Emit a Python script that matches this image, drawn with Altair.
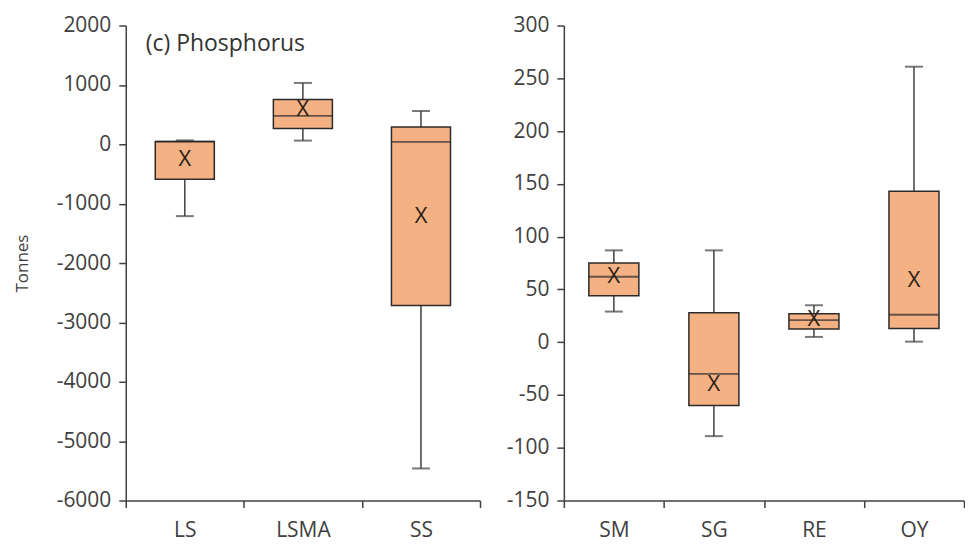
import altair as alt
import pandas as pd

# ---- data ----
left_cats = ["LS", "LSMA", "SS"]
left_min = [-1210, 62, -5460]
left_q1 = [-590, 267, -2715]
left_median = [45, 478, 40]
left_q3 = [45, 755, 290]
left_max = [65, 1033, 560]
left_mean = [-255, 590, -1210]
left_ticks = [-6000, -5000, -4000, -3000, -2000, -1000, 0, 1000, 2000]

right_cats = ["SM", "SG", "RE", "OY"]
right_min = [29, -89, 5, 0.5]
right_q1 = [44, -60, 12.5, 13]
right_median = [62, -30, 21, 26]
right_q3 = [75, 28, 27, 143]
right_max = [87, 87, 35, 261]
right_mean = [63, -40, 22, 59]
right_ticks = [-150, -100, -50, 0, 50, 100, 150, 200, 250, 300]

FONT = "Open Sans"
AXIS_COL = "#404040"
FILL = "#F4B183"
STROKE = "#2b2b2b"


def panel(cats, mn, q1, med, q3, mx, mean, ticks, width, height, ytitle, note):
    df = pd.DataFrame({"cat": cats, "min": mn, "q1": q1, "median": med,
                       "q3": q3, "max": mx, "mean": mean})
    band = width / len(cats)
    box_px = band * 0.5
    x = alt.X("cat:N", sort=cats,
              scale=alt.Scale(paddingInner=0, paddingOuter=0),
              axis=alt.Axis(title=None, labelAngle=0, tickBand="extent",
                            tickSize=7, labelPadding=12, labelFontSize=21))
    yscale = alt.Scale(domain=[ticks[0], ticks[-1]], nice=False, zero=False)
    yaxis = alt.Axis(values=ticks, labelExpr="'' + datum.value", tickSize=7,
                     labelPadding=8, labelFontSize=21, grid=False,
                     title=ytitle if ytitle else None, titleFontSize=17,
                     titleFontWeight="normal", titlePadding=25,
                     titleColor=AXIS_COL)
    base = alt.Chart(df).encode(x=x)
    whisk_lo = base.mark_rule(color=AXIS_COL, strokeWidth=1.5).encode(
        y=alt.Y("min:Q", scale=yscale, axis=yaxis), y2="q1:Q")
    whisk_hi = base.mark_rule(color=AXIS_COL, strokeWidth=1.5).encode(
        y="q3:Q", y2="max:Q")
    cap_lo = base.mark_tick(orient="horizontal", size=18, thickness=2,
                            color=AXIS_COL).encode(y="min:Q")
    cap_hi = base.mark_tick(orient="horizontal", size=18, thickness=2,
                            color=AXIS_COL).encode(y="max:Q")
    box = base.mark_bar(width=alt.RelativeBandSize(0.5), fill=FILL,
                        stroke=STROKE, strokeWidth=1.5).encode(
        y="q1:Q", y2="q3:Q")
    med_t = base.mark_tick(orient="horizontal", size=box_px, thickness=1.8,
                           color=STROKE).encode(y="median:Q")
    mean_t = base.mark_text(text="X", font=FONT, fontSize=22,
                            color="#2a2016", baseline="middle").encode(
        y="mean:Q")
    layers = [whisk_lo, whisk_hi, cap_lo, cap_hi, box, med_t, mean_t]
    if note:
        ann = alt.Chart(pd.DataFrame({"t": [note]})).mark_text(
            font=FONT, fontSize=23, color="#333333", align="left",
            baseline="middle").encode(text="t:N", x=alt.value(20),
                                      y=alt.value(19))
        layers.append(ann)
    return alt.layer(*layers).properties(width=width, height=height)


left = panel(left_cats, left_min, left_q1, left_median, left_q3, left_max,
             left_mean, left_ticks, 355, 476, "Tonnes", "(c) Phosphorus")
right = panel(right_cats, right_min, right_q1, right_median, right_q3,
              right_max, right_mean, right_ticks, 401, 476, None, None)

chart = alt.hconcat(left, right, spacing=25).properties(
    padding={"left": 5, "top": 6, "right": 0, "bottom": 2}
).configure_view(stroke=None).configure_axis(
    domainColor=AXIS_COL, tickColor=AXIS_COL, labelColor=AXIS_COL,
    labelFont=FONT, titleFont=FONT, domainWidth=1.5, tickWidth=1.5
)

chart.save("out.html", embed_options={"renderer": "svg", "actions": False})
